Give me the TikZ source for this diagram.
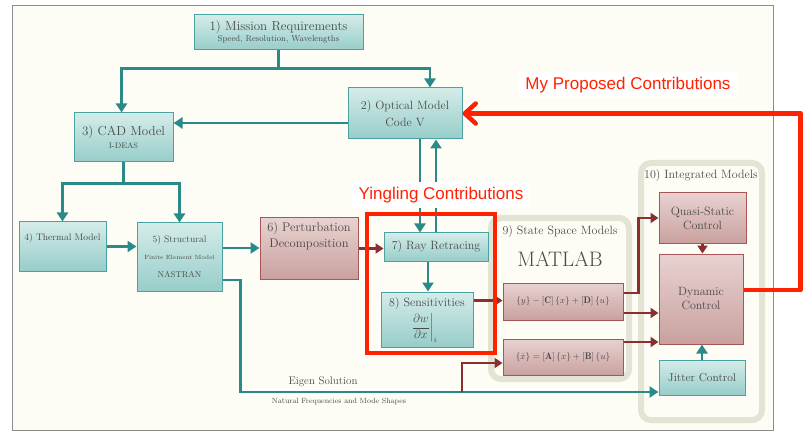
\documentclass[tikz,border=0pt]{standalone}
\usepackage{amsmath,amssymb}
\usepackage{fontspec}
\newfontfamily\notesans{Liberation Sans}
\usepackage{tikz}
\usetikzlibrary{arrows.meta,positioning,calc}

\definecolor{slidebg}{HTML}{FDFDF6}
\definecolor{slideedge}{HTML}{8C8C8C}
\definecolor{tealtop}{HTML}{D4ECE9}
\definecolor{tealbot}{HTML}{97CDC9}
\definecolor{tealedge}{HTML}{4AA3A0}
\definecolor{tealline}{HTML}{2A8A88}
\definecolor{redtop}{HTML}{E8D2D0}
\definecolor{redbot}{HTML}{C9A19F}
\definecolor{rededge}{HTML}{A65656}
\definecolor{redline}{HTML}{8A2E2E}
\definecolor{groupedge}{HTML}{E4E4D5}
\definecolor{boxtext}{HTML}{4A4A4A}
\definecolor{propred}{HTML}{FF2200}

\begin{document}
\begin{tikzpicture}[
    x=1pt, y=-1pt,
    >=latex,
    teal_node/.style={draw=tealedge, line width=1pt, top color=tealtop, bottom color=tealbot, text=boxtext, align=center, inner sep=1pt},
    red_node/.style={draw=rededge, line width=1pt, top color=redtop, bottom color=redbot, text=boxtext, align=center, inner sep=1pt},
    box_text/.style={text=boxtext, align=center, inner sep=1pt},
    group_box/.style={draw=groupedge, line width=6pt, rounded corners=10pt, fill=slidebg},
    teal_edge/.style={-{Triangle[length=9pt,width=11pt]}, line width=2.5pt, draw=tealline},
    red_edge/.style={-{Triangle[length=8pt,width=10pt]}, line width=2.5pt, draw=redline},
    contrib_edge/.style={-{Straight Barb[length=11pt,width=20pt,line width=4.5pt,round]}, line width=4.5pt, draw=propred, line join=round},
    contrib_text/.style={font=\notesans\fontsize{17}{20}\selectfont, text=propred, fill=white, inner xsep=7pt, inner ysep=5pt}
]

\useasboundingbox (0,0) rectangle (812,441);
\fill[white] (0,0) rectangle (812,441);

% --- SLIDE ---
\draw[slideedge, fill=slidebg, line width=1pt] (12,6) rectangle (773,430);

% --- GROUPS ---
\node[group_box, minimum width=138, minimum height=161] (ssm_group) at (560,298.5) {};
\node[group_box, minimum width=121, minimum height=257] (int_group) at (701.5,291.5) {};
\node[box_text, font=\fontsize{12}{14}\selectfont] (ssm_title) at (560,232) {9) State Space Models};
\node[box_text, font=\fontsize{21}{24}\selectfont] (matlab) at (560,259) {MATLAB};
\node[box_text, font=\fontsize{12}{14}\selectfont] (int_title) at (701,176) {10) Integrated Models};

% --- NODES ---

% Top row: requirements and optics
\node[teal_node, minimum width=169, minimum height=35] (mission) at (278.5,32.5)
    {{\fontsize{13}{15}\selectfont 1) Mission Requirements}\\[-1pt]{\fontsize{8.5}{10}\selectfont Speed, Resolution, Wavelengths}};
\node[teal_node, minimum width=114, minimum height=51] (optical) at (405,113.5)
    {{\fontsize{12}{14}\selectfont 2) Optical Model}\\[5pt]{\fontsize{12}{14}\selectfont Code V}};
\node[teal_node, minimum width=99, minimum height=49] (cad) at (123.5,137.5)
    {{\fontsize{13}{15}\selectfont 3) CAD Model}\\[1pt]{\fontsize{8}{10}\selectfont I-DEAS}};

% Middle row: thermal, structural, perturbation
\node[teal_node, minimum width=87, minimum height=49] (thermal) at (62.5,246.5) {};
\node[box_text, font=\fontsize{9.5}{11}\selectfont] (thermal_lbl) at (62.5,238) {4) Thermal Model};
\node[teal_node, minimum width=85, minimum height=68] (struct) at (179.5,257)
    {{\fontsize{9.5}{11}\selectfont 5) Structural}\\[5pt]{\fontsize{6}{7}\selectfont Finite Element Model}\\[6pt]{\fontsize{8.5}{10}\selectfont NASTRAN}};
\node[red_node, minimum width=98, minimum height=61] (perturb) at (309,248.5) {};
\node[box_text, font=\fontsize{12.5}{15.5}\selectfont] (perturb_lbl) at (309,236) {6) Perturbation\\Decomposition};

% Ray retracing and sensitivities
\node[teal_node, minimum width=104, minimum height=28, font=\fontsize{12}{14}\selectfont] (ray) at (436,247) {7) Ray Retracing};
\node[teal_node, minimum width=92, minimum height=55] (sens) at (427,319.5) {};
\node[box_text, font=\fontsize{12}{14}\selectfont] (sens_lbl) at (427,304) {8) Sensitivities};
\node[box_text, font=\fontsize{12}{14}\selectfont] (sens_frac) at (424,328)
    {$\displaystyle\left.\frac{\partial w}{\partial x}\right|_i$};

% State space equations
\node[red_node, minimum width=120, minimum height=37, font=\fontsize{9.5}{11}\selectfont] (eq_out) at (563,301.5)
    {$\{y\} - [\mathbf{C}]\,\{x\} + [\mathbf{D}]\,\{u\}$};
\node[red_node, minimum width=120, minimum height=36, font=\fontsize{9.5}{11}\selectfont] (eq_state) at (563,357)
    {$\{\dot{x}\} = [\mathbf{A}]\,\{x\} + [\mathbf{B}]\,\{u\}$};

% Integrated models
\node[red_node, minimum width=87, minimum height=50, font=\fontsize{12}{14}\selectfont] (quasi) at (702.5,218) {Quasi-Static\\Control};
\node[red_node, minimum width=84, minimum height=90, font=\fontsize{12}{14}\selectfont] (dyn) at (701,299) {Dynamic\\Control};
\node[teal_node, minimum width=86, minimum height=35, font=\fontsize{11.5}{13}\selectfont] (jitter) at (702,377.5) {Jitter Control};

% --- EDGES ---

% 1. Requirements to models
\draw[line width=2.5pt, tealline] (mission.south) -- ++(0,18) coordinate (req_split);
\draw[teal_edge] (req_split) -| ([xshift=-2pt]cad.north);
\draw[teal_edge] (req_split) -| ([xshift=25pt]optical.north);
\draw[teal_edge] ([yshift=-9.5pt]optical.west) -- ([yshift=-9.5pt]optical.west -| cad.east);

% 2. CAD to thermal / structural
\draw[line width=2.5pt, tealline] (cad.south) -- ++(0,21) coordinate (cad_split);
\draw[teal_edge] (cad_split) -| (thermal.north);
\draw[teal_edge] (cad_split) -| (struct.north);
\draw[teal_edge] (thermal.east) -- (thermal.east -| struct.west);
\draw[teal_edge] ([yshift=9pt]struct.east) -- ([yshift=9pt]struct.east -| perturb.west);
\draw[red_edge] (perturb.east) -- (perturb.east -| ray.west);

% 3. Optical model loop
\draw[teal_edge] ([xshift=15pt]optical.south) -- ([xshift=15pt]optical.south |- ray.north);
\draw[teal_edge] (ray.north) -- (ray.north |- optical.south);
\draw[teal_edge] ([xshift=-8pt]ray.south) -- ([xshift=-8pt]ray.south |- sens.north);
\draw[red_edge] ([yshift=19pt]sens.east) -- ([yshift=19pt]sens.east -| eq_out.west);

% 4. Eigen solution
\draw[teal_edge] ([yshift=-23pt]struct.east) -- ++(18,0) |- ([yshift=-14.5pt]jitter.west);
\coordinate (eig_split) at (462,392);
\draw[red_edge] (eig_split) |- ([yshift=-6pt]eq_state.west);
\node[box_text, font=\fontsize{11}{13}\selectfont] (eig_lbl) at (323,382) {Eigen Solution};
\node[box_text, font=\fontsize{7.5}{9}\selectfont] (eig_sub) at (339,402) {Natural Frequencies and Mode Shapes};

% 5. State space to control
\draw[red_edge] ([yshift=8.5pt]eq_out.east) -- ++(15,0) |- (quasi.west);
\draw[red_edge] ([yshift=-11.5pt]eq_out.east) -- ([yshift=-11.5pt]eq_out.east -| dyn.west);
\draw[red_edge] ([yshift=15pt]eq_state.east) -- ([yshift=15pt]eq_state.east -| dyn.west);
\draw[red_edge] (quasi.south) -- (quasi.south |- dyn.north);
\draw[teal_edge] (jitter.north) -- (jitter.north |- dyn.south);

% --- ANNOTATIONS ---
\node[draw=propred, line width=4.5pt, minimum width=128, minimum height=139] (yingling_box) at (431,283.5) {};
\node[contrib_text] (yingling_lbl) at (441,195) {Yingling Contributions};
\node[contrib_text] (proposed_lbl) at (628,85) {My Proposed Contributions};
\draw[contrib_edge] ([yshift=9pt]dyn.east) -- ++(57,0) |- (optical.east);

\end{tikzpicture}
\end{document}
